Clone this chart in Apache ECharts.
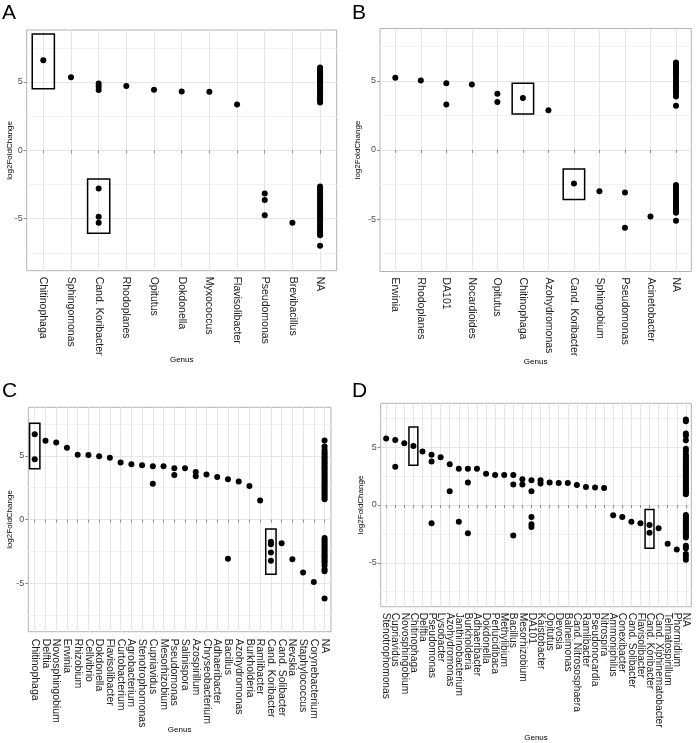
<!DOCTYPE html>
<html><head><meta charset="utf-8">
<script src="https://cdn.jsdelivr.net/npm/echarts@6/dist/echarts.min.js"></script>
<style>html,body{margin:0;padding:0;background:#fff}#c{width:696px;height:743px}</style>
</head><body><div id="c"></div><script>
// ---------- data ----------
const yLimits = [-8, 8];            // ggplot ylim (5% expansion applied below)
const yBreaks = [-5, 0, 5];
const yMinorBreaks = [-7.5, -2.5, 2.5, 7.5];

const aGenus = ['Chitinophaga','Sphingomonas','Cand. Koribacter','Rhodoplanes','Opitutus','Dokdonella','Myxococcus','Flavisolibacter','Pseudomonas','Brevibacillus','NA'];
const aValues = [[6.59],[5.34],[4.88,4.66,4.41,-2.79,-4.85,-5.29],[4.71],[4.44],[4.31],[4.29],[3.36],[-3.16,-3.63,-4.75],[-5.29],
  [6.06,5.97,5.88,5.8,5.71,5.62,5.52,5.43,5.33,5.24,5.14,5.05,4.95,4.86,4.74,4.6,4.47,4.33,4.18,4.04,3.9,3.76,3.62,3.49,
   -2.65,-2.8,-2.96,-3.1,-3.27,-3.43,-3.58,-3.74,-3.9,-4.05,-4.2,-4.36,-4.52,-4.67,-4.82,-4.98,-5.13,-5.29,-5.44,-5.6,-5.75,-5.9,-6.05,-6.2,-6.98]];
const aBoxes = [['Chitinophaga',4.51,8.5],['Cand. Koribacter',-6.07,-2.1]];

const bGenus = ['Erwinia','Rhodoplanes','DA101','Nocardioides','Opitutus','Chitinophaga','Azohydromonas','Cand. Koribacter','Sphingobium','Pseudomonas','Acinetobacter','NA'];
const bValues = [[5.23],[5.04],[4.84,3.30],[4.75],[4.07,3.47],[3.76],[2.87],[-2.43],[-2.99],[-3.08,-5.64],[-4.82],
  [6.34,6.2,6.05,5.9,5.76,5.64,5.52,5.4,5.28,5.08,4.95,4.8,4.65,4.55,4.43,4.31,4.2,4.07,3.88,3.2,
   -2.53,-2.7,-2.82,-2.95,-3.11,-3.25,-3.4,-3.59,-3.7,-3.83,-3.95,-4.07,-4.2,-4.31,-4.45,-4.55,-5.13]];
const bBoxes = [['Chitinophaga',2.60,4.84],['Cand. Koribacter',-3.59,-1.37]];

const cGenus = ['Chitinophaga','Delftia','Novosphingobium','Erwinia','Rhizobium','Cellvibrio','Dokdonella','Flavisolibacter','Curtobacterium','Agrobacterium','Stenotrophomonas','Cupriavidus','Mesorhizobium','Pseudomonas','Salinispora','Azospirillum','Chryseobacterium','Adhaeribacter','Bacillus','Azohydromonas','Burkholderia','Ramlibacter','Cand. Koribacter','Cand. Solibacter','Nevskia','Staphylococcus','Corynebacterium','NA'];
const cValues = [[6.68,4.72],[6.17],[6.04],[5.62],[5.08],[5.05],[4.97],[4.84],[4.48],[4.33],[4.25],[4.17,2.80],[4.17],[4.02,3.50],[4.02],[3.73,3.39],[3.52],[3.34],[3.16,-3.08],[2.98],[2.62],[1.50],[-1.74,-1.94,-2.59,-3.24],[-1.87],[-3.11],[-4.15],[-4.90],
  [6.19,5.73,5.47,5.3,5.15,5.0,4.86,4.7,4.55,4.41,4.25,4.1,3.96,3.8,3.65,3.5,3.36,3.2,3.05,2.9,2.76,2.6,2.45,2.3,2.15,2.0,1.86,1.7,1.58,
   -1.45,-1.6,-1.75,-1.9,-2.06,-2.2,-2.35,-2.5,-2.66,-2.8,-2.95,-3.1,-3.26,-3.4,-3.6,-3.9,-4.05,-6.2]];
const cBoxes = [['Chitinophaga',3.99,7.54],['Cand. Koribacter',-4.3,-0.75]];

const dGenus = ['Stenotrophomonas','Cupriavidus','Novosphingobium','Chitinophaga','Delftia','Pseudomonas','Lysobacter','Azohydromonas','Janthinobacterium','Burkholderia','Adhaeribacter','Dokdonella','Perlucidibaca','Methylibium','Bacillus','Mesorhizobium','DA101','Kaistobacter','Opitutus','Devosia','Balneimonas','Cand. Nitrososphaera','Ramlibacter','Pseudonocardia','Nitrospira','Ammoniphilus','Conexibacter','Cand. Solibacter','Flavisolibacter','Cand. Koribacter','Cand. Xiphinematobacter','Telmatospirillum','Phormidium','NA'];
const dValues = [[5.75],[5.63,3.30],[5.34],[5.11],[4.63],[4.34,3.76,-1.58],[4.14],[3.53,1.18],[3.13,-1.44],[3.13,1.95,-2.44],[3.13],[2.70],[2.59],[2.59],[2.59,1.78,-2.64],[2.22,1.78],[2.15,1.18,-1.03,-1.67,-1.90],[2.15,1.87],[1.95],[1.90],[1.90],[1.72],[1.55],[1.52],[1.47],[-0.89],[-1.03],[-1.44],[-1.58],[-1.72,-2.41],[-2.01],[-3.36],[-3.85],
  [7.39,7.24,6.18,6.0,5.6,4.86,4.68,4.37,4.2,4.05,3.9,3.76,3.6,3.45,3.3,3.15,3.0,2.86,2.7,2.55,2.4,2.25,2.1,1.95,1.8,1.65,1.5,1.35,1.2,1.05,0.92,
   -0.86,-1.0,-1.15,-1.3,-1.45,-1.6,-1.75,-1.9,-2.05,-2.2,-2.35,-2.5,-2.65,-2.82,-3.53,-3.74,-4.25,-4.48,-4.74]];
const dBoxes = [['Chitinophaga',3.45,6.75],['Cand. Koribacter',-3.74,-0.40]];

// ---------- layout / style ----------
const FONT = 'Liberation Sans, Arial, Helvetica, sans-serif';
const yPad = (yLimits[1] - yLimits[0]) * 0.05;
const yMin = yLimits[0] - yPad, yMax = yLimits[1] + yPad;
const X_EXPAND = 0.6; // ggplot discrete-axis expansion

const panels = [
  {letter:'A', genus:aGenus, values:aValues, boxes:aBoxes, grid:{left:26.7, top:30, width:310, height:240.7}, lp:[2,3], lblMargin:6, xGap:85, yGap:13, half:0.4, fs:10.5},
  {letter:'B', genus:bGenus, values:bValues, boxes:bBoxes, grid:{left:380, top:28.5, width:311.3, height:243}, lp:[352,3], lblMargin:6, xGap:86, yGap:18, half:0.42, fs:10.5},
  {letter:'C', genus:cGenus, values:cValues, boxes:cBoxes, grid:{left:28.3, top:407.3, width:302.7, height:224.4}, lp:[2,381], lblMargin:7, xGap:94, yGap:15, half:0.48, fs:10.5},
  {letter:'D', genus:dGenus, values:dValues, boxes:dBoxes, grid:{left:380.7, top:403.3, width:310.6, height:203.4}, lp:[352,381], lblMargin:6, xGap:127, yGap:16, half:0.49, fs:10.2}
];

const option = {animation:false, backgroundColor:'#fff', title:[], grid:[], xAxis:[], yAxis:[], series:[]};

panels.forEach((p, i) => {
  const n = p.genus.length;
  const xMin = 1 - X_EXPAND, xMax = n + X_EXPAND;
  // category positions, padded with the axis ends (those end entries are hidden by showMin/MaxLabel:false)
  const idx = [xMin].concat(p.genus.map((g, k) => k + 1), [xMax]);
  option.title.push({text:p.letter, left:p.lp[0], top:p.lp[1], padding:0,
    textStyle:{fontFamily:FONT, fontSize:21, fontWeight:'normal', color:'#000'}});
  option.grid.push(Object.assign({show:true, borderColor:'#b3b3b3', borderWidth:1, backgroundColor:'#fff', containLabel:false}, p.grid));
  option.xAxis.push({type:'value', gridIndex:i, min:xMin, max:xMax,
    name:'Genus', nameLocation:'middle', nameGap:p.xGap, nameMoveOverlap:false,
    nameTextStyle:{fontFamily:FONT, fontSize:8, color:'#000'},
    axisLine:{show:false},
    axisTick:{show:true, customValues:idx, length:3, lineStyle:{color:'#8c8c8c'}},
    axisLabel:{customValues:idx, rotate:-90, margin:p.lblMargin, fontFamily:FONT, fontSize:p.fs, color:'#222',
      showMinLabel:false, showMaxLabel:false, hideOverlap:false,
      formatter:v => (Number.isInteger(v) ? p.genus[v - 1] : '') || ''},
    splitLine:{show:true, showMinLine:false, showMaxLine:false, lineStyle:{color:'#e6e6e6', width:1}}});
  option.yAxis.push({type:'value', gridIndex:i, min:yMin, max:yMax,
    name:'log2FoldChange', nameLocation:'middle', nameGap:p.yGap, nameMoveOverlap:false,
    nameTextStyle:{fontFamily:FONT, fontSize:8, color:'#000'},
    axisLine:{show:false},
    axisTick:{show:true, customValues:yBreaks, length:3, lineStyle:{color:'#8c8c8c'}},
    axisLabel:{customValues:yBreaks, margin:4, fontFamily:FONT, fontSize:9, color:'#4d4d4d'},
    splitLine:{show:true, lineStyle:{color:'#e6e6e6', width:1}}});
  option.yAxis.push({type:'value', gridIndex:i, min:yMin, max:yMax,
    axisLine:{show:false}, axisTick:{show:false, customValues:yMinorBreaks},
    axisLabel:{show:false, customValues:yMinorBreaks},
    splitLine:{show:true, lineStyle:{color:'#f2f2f2', width:1}}});
  const data = [];
  p.values.forEach((vals, k) => vals.forEach(v => data.push([k + 1, v])));
  option.series.push({type:'scatter', xAxisIndex:i, yAxisIndex:2 * i, data:data,
    symbol:'circle', symbolSize:6, itemStyle:{color:'#000', opacity:1}, silent:true, z:3,
    markArea:{silent:true, label:{show:false},
      itemStyle:{color:'rgba(0,0,0,0)', borderColor:'#000', borderWidth:1.5},
      data:p.boxes.map(b => {
        const x = p.genus.indexOf(b[0]) + 1;
        return [{coord:[x - p.half, b[2]]}, {coord:[x + p.half, b[1]]}];
      })}});
});

const chart = echarts.init(document.getElementById('c'), null, {renderer:'canvas'});
chart.setOption(option);
</script></body></html>
